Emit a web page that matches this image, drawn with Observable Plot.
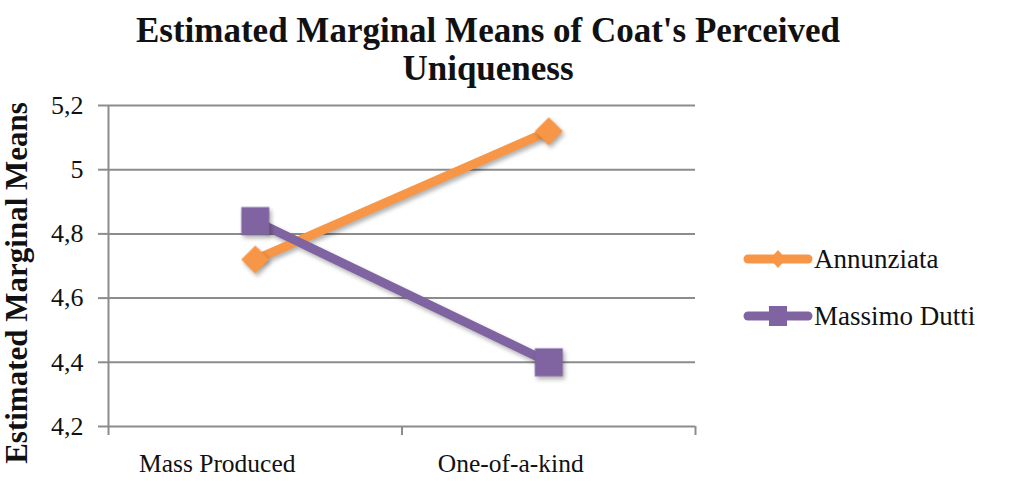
<!DOCTYPE html>
<html>
<head>
<meta charset="utf-8">
<script src="https://cdn.jsdelivr.net/npm/d3@7"></script>
<script src="https://cdn.jsdelivr.net/npm/@observablehq/plot@0.6"></script>
<style>
  html, body { margin: 0; padding: 0; background: #fff; }
  #wrap { position: relative; width: 1012px; height: 481px; font-family: "Liberation Serif", "Times New Roman", serif; }
  #legend { position: absolute; left: 743px; top: 240px; }
  .item { display: flex; align-items: center; height: 38px; margin-bottom: 19px; font-size: 27px; color: #111; }
  .item svg { display: block; margin-right: 1px; }
</style>
</head>
<body>
<div id="wrap"></div>
<script>
// ---- data ----
const categories = ["Mass Produced", "One-of-a-kind"];
const seriesNames = ["Annunziata", "Massimo Dutti"];
const annunziata = [4.72, 5.12];
const massimoDutti = [4.84, 4.40];
const seriesColors = ["#F79646", "#8064A2"];
const seriesSymbols = ["diamond2", "square"];
const yTicks = [4.2, 4.4, 4.6, 4.8, 5.0, 5.2];
const titleLines = ["Estimated Marginal Means of Coat's Perceived", "Uniqueness"];
const yLabel = "Estimated Marginal Means";

// ---- table ----
const rows = [];
[annunziata, massimoDutti].forEach((vals, s) => {
  vals.forEach((v, i) => rows.push({series: seriesNames[s], idx: i + 0.5, value: v}));
});
const boundaries = d3.range(categories.length + 1);
const fmtY = d => (d === Math.round(d) ? String(d) : d.toFixed(1).replace(".", ","));

const font = '"Liberation Serif", "Times New Roman", serif';
const gray = "#8c8c8c";

const chart = Plot.plot({
  width: 1012,
  height: 481,
  marginLeft: 108,
  marginRight: 317,
  marginTop: 105,
  marginBottom: 55,
  style: {fontFamily: font, color: "#111", background: "white"},
  x: {type: "linear", domain: [0, categories.length], axis: null},
  y: {domain: [4.2, 5.2], axis: null},
  color: {domain: seriesNames, range: seriesColors},
  symbol: {domain: seriesNames, range: seriesSymbols},
  marks: [
    Plot.ruleY(yTicks, {stroke: gray, strokeWidth: 2}),
    Plot.ruleX([0], {stroke: gray, strokeWidth: 2}),
    Plot.axisY({ticks: yTicks, tickSize: 10, tickFormat: () => "", stroke: gray, strokeWidth: 2, label: null}),
    Plot.text(yTicks, {x: 0, y: d => d, text: fmtY, textAnchor: "end", lineAnchor: "middle", dx: -25, fontSize: 26}),
    Plot.axisX({ticks: boundaries, tickSize: 9, tickFormat: () => "", stroke: gray, strokeWidth: 2, label: null}),
    Plot.text(categories, {x: (d, i) => i + 0.5, frameAnchor: "bottom", textAnchor: "middle", lineAnchor: "middle", dx: -38, dy: 37, fontSize: 25.5}),
    Plot.line(rows, {x: "idx", y: "value", z: "series", stroke: "series", strokeWidth: 9}),
    Plot.dot(rows.filter(d => d.series === seriesNames[0]), {x: "idx", y: "value", symbol: "series", fill: "series", r: 12.6, stroke: null}),
    Plot.dot(rows.filter(d => d.series === seriesNames[1]), {x: "idx", y: "value", symbol: "series", fill: "series", r: 15.8, stroke: null}),
    Plot.text([titleLines[0]], {frameAnchor: "top", textAnchor: "middle", lineAnchor: "middle", dx: 86, dy: -75, fontSize: 35, fontWeight: "bold"}),
    Plot.text([titleLines[1]], {frameAnchor: "top", textAnchor: "middle", lineAnchor: "middle", dx: 86, dy: -37, fontSize: 35, fontWeight: "bold"}),
    Plot.text([yLabel], {frameAnchor: "left", textAnchor: "middle", lineAnchor: "middle", rotate: -90, dx: -91, dy: 17, fontSize: 31, fontWeight: "bold"})
  ]
});

chart.querySelectorAll('g[aria-label="line"], g[aria-label="dot"]').forEach(g => {
  g.style.filter = "drop-shadow(2px 3px 2px rgba(0,0,0,0.3))";
});

const wrap = document.getElementById("wrap");
wrap.appendChild(chart);

// legend
const legend = document.createElement("div");
legend.id = "legend";
seriesNames.forEach((name, i) => {
  const item = document.createElement("div");
  item.className = "item";
  const sw = d3.create("svg").attr("width", 70).attr("height", 24);
  sw.append("line").attr("x1", 5).attr("x2", 65).attr("y1", 12).attr("y2", 12)
    .attr("stroke", seriesColors[i]).attr("stroke-width", 9).attr("stroke-linecap", "round");
  if (seriesSymbols[i] === "square") {
    sw.append("rect").attr("x", 26).attr("y", 2).attr("width", 18).attr("height", 20).attr("fill", seriesColors[i]);
  } else {
    sw.append("path").attr("d", "M35,3L43,12L35,21L27,12Z").attr("fill", seriesColors[i]);
  }
  item.appendChild(sw.node());
  const label = document.createElement("span");
  label.textContent = name;
  item.appendChild(label);
  legend.appendChild(item);
});
wrap.appendChild(legend);
</script>
</body>
</html>
